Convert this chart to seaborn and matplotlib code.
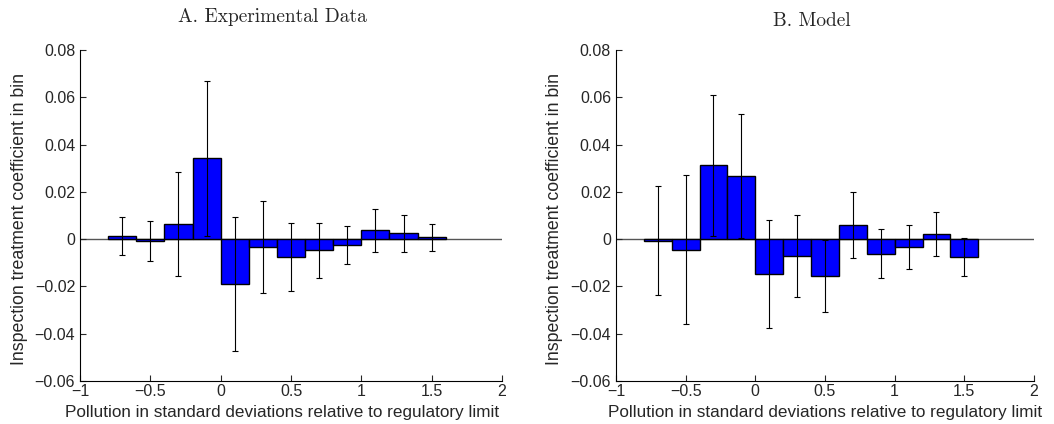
import matplotlib
matplotlib.use('Agg')
import matplotlib.pyplot as plt
import matplotlib.ticker as mticker
import seaborn as sns
import pandas as pd

# bin centres (pollution in SD relative to limit)
bins = [-0.7, -0.5, -0.3, -0.1, 0.1, 0.3, 0.5, 0.7, 0.9, 1.1, 1.3, 1.5]

# panel A: experimental data
exp_coef = [0.0013, -0.0008, 0.0062, 0.0342, -0.0190, -0.0033,
            -0.0076, -0.0048, -0.0025, 0.0037, 0.0024, 0.0007]
exp_err = [0.0082, 0.0083, 0.0220, 0.0328, 0.0285, 0.0195,
           0.0145, 0.0118, 0.0079, 0.0090, 0.0078, 0.0059]

# panel B: model
model_coef = [-0.0006, -0.0044, 0.0313, 0.0267, -0.0146, -0.0072,
              -0.0157, 0.0059, -0.0061, -0.0033, 0.0021, -0.0076]
model_err = [0.0229, 0.0314, 0.0298, 0.0263, 0.0228, 0.0172,
             0.0152, 0.0140, 0.0103, 0.0093, 0.0092, 0.0080]

titles = ["A. Experimental Data", "B. Model"]
xlabel = "Pollution in standard deviations relative to regulatory limit"
ylabel = "Inspection treatment coefficient in bin"

sns.set_style("ticks")
plt.rcParams['font.family'] = ['Liberation Sans', 'DejaVu Sans']


def fmt(v, p):
    return f"{v:g}".replace('-', '\u2212')


fig = plt.figure(figsize=(10.54, 4.24), dpi=100)
ax_a = fig.add_axes([0.0759, 0.1014, 0.4004, 0.7807])
ax_b = fig.add_axes([0.5844, 0.1014, 0.3966, 0.7807])

# (axes, values, errors, ylabel x, xlabel x) in axes fraction
panels = [(ax_a, exp_coef, exp_err, -0.123, 0.479),
          (ax_b, model_coef, model_err, -0.127, 0.5)]
for ax, coef, err, ylx, xlx in panels:
    df = pd.DataFrame({'bin': bins, 'coef': coef})
    ax.axhline(0, color='#555555', lw=1, zorder=0)
    sns.barplot(data=df, x='bin', y='coef', native_scale=True, width=1,
                color='#0000ff', saturation=1, edgecolor='black',
                linewidth=1, errorbar=None, ax=ax, zorder=2)
    ax.errorbar(bins, coef, yerr=err, fmt='none', ecolor='black',
                elinewidth=0.8, capsize=2.5, capthick=0.8, zorder=3)
    ax.set_xlim(-1, 2)
    ax.set_ylim(-0.06, 0.08)
    ax.set_xticks([-1, -0.5, 0, 0.5, 1, 1.5, 2])
    ax.set_yticks([-0.06, -0.04, -0.02, 0, 0.02, 0.04, 0.06, 0.08])
    ax.xaxis.set_major_formatter(mticker.FuncFormatter(fmt))
    ax.yaxis.set_major_formatter(mticker.FuncFormatter(fmt))
    ax.tick_params(direction='in', length=4, width=0.8, labelsize=11.5)
    ax.tick_params(axis='y', pad=3.5)
    ax.tick_params(axis='x', pad=2.5)
    for s in ['top', 'right']:
        ax.spines[s].set_visible(False)
    for s in ['left', 'bottom']:
        ax.spines[s].set_linewidth(0.8)
        ax.spines[s].set_color('black')
    ax.set_xlabel(xlabel, fontsize=12.3)
    ax.set_ylabel(ylabel, fontsize=12.8)
    ax.xaxis.set_label_coords(xlx, -0.072)
    ax.yaxis.set_label_coords(ylx, 0.49)

fig.text(272 / 1054, 1 - 17 / 424, titles[0], family='cmr10', fontsize=14,
         ha='center', va='center')
fig.text(812 / 1054, 1 - 21 / 424, titles[1], family='cmr10', fontsize=14,
         ha='center', va='center')

plt.savefig('out.png', dpi=100)
plt.close()
